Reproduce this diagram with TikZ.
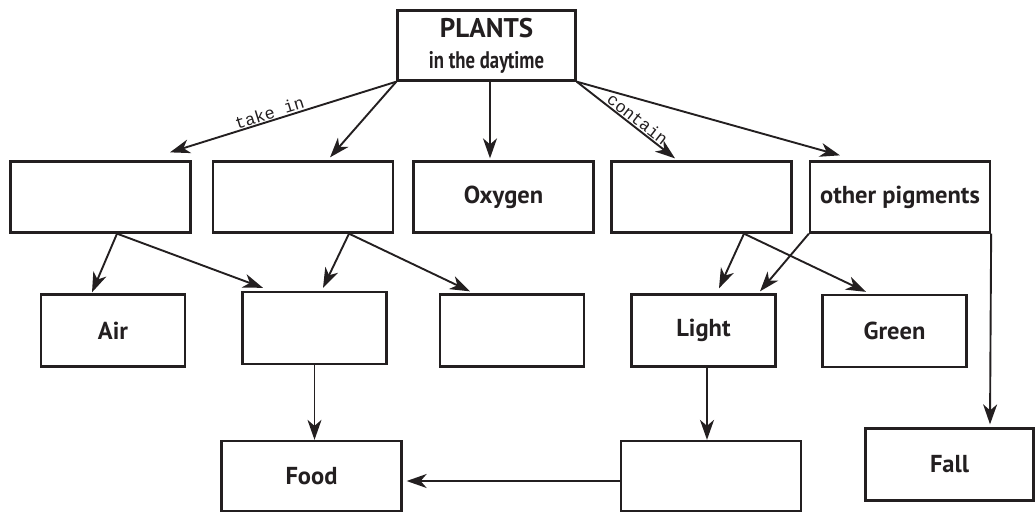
\documentclass[tikz,border=0pt]{standalone}
\usepackage{graphicx}
\usepackage{fontspec}
\setmainfont{PT Sans}
\setmonofont{Liberation Mono}
\usepackage{tikz}
\usetikzlibrary{arrows.meta}
\definecolor{ink}{HTML}{231F20}
\tikzset{
    box/.style={draw=ink, line width=2.3pt, minimum width=180pt, minimum height=71pt,
        inner sep=0pt, text=ink, font=\fontsize{24.5}{28}\selectfont\bfseries},
    smallbox/.style={box, minimum width=144pt, minimum height=72pt},
    lbl/.style={font=\fontsize{17}{17}\selectfont\ttfamily, text=ink, sloped, above, inner sep=1pt}
}

\begin{document}
\begin{tikzpicture}[x=1pt, y=-1pt, line width=1.9pt, draw=ink,
        >={Stealth[length=20pt, width=14pt, inset=6pt]}]
            \useasboundingbox (0,0) rectangle (1036,512);

            \node[box, minimum width=178pt, minimum height=70pt, align=center] (PL) at (486.5,45.5)
                {{\fontsize{27}{30}\selectfont PLANTS}\\[3pt]{\fontsize{24}{24}\selectfont\scalebox{0.78}[1]{in the daytime}}};

            \node[box] (A1) at (100.5,197) {};
            \node[box] (A2) at (303,197) {};
            \node[box] (OX) at (503.5,197) {Oxygen};
            \node[box] (A4) at (701.5,197) {};
            \node[box] (OP) at (900,197) {other pigments};

            \node[smallbox] (AIR) at (113,330.5) {Air};
            \node[smallbox] (B2) at (314.5,328) {};
            \node[smallbox] (B3) at (512,330.5) {};
            \node[smallbox] (LI) at (703.5,330.5) {Light};
            \node[smallbox] (GR) at (894.5,331) {Green};

            \node[box, minimum height=70pt] (FO) at (311.5,476) {Food};
            \node[box, minimum height=70pt] (C2) at (711,476) {};
            \node[box, minimum width=168pt, minimum height=72pt] (FA) at (949.5,464.5) {Fall};

            \draw[->] (PL.south west) -- node[lbl, pos=0.55] {take in} ([xshift=69.5pt,yshift=8pt]A1.north);
            \draw[->] (PL.south west) -- ([xshift=27pt,yshift=3pt]A2.north);
            \draw[->] ([xshift=3.5pt]PL.south) -- ([xshift=-13.5pt,yshift=2pt]OX.north);
            \draw[->] (PL.south east) -- node[lbl, pos=0.57] {contain} ([xshift=-26.5pt,yshift=2pt]A4.north);
            \draw[->] (PL.south east) -- ([xshift=-60pt,yshift=5pt]OP.north);

            \draw[->] ([xshift=16.5pt]A1.south) -- ([xshift=-21pt,yshift=1pt]AIR.north);
            \draw[->] ([xshift=16.5pt]A1.south) -- ([xshift=-51.5pt,yshift=3pt]B2.north);
            \draw[->] ([xshift=46pt]A2.south) -- ([xshift=8.5pt,yshift=3pt]B2.north);
            \draw[->] ([xshift=46pt]A2.south) -- ([xshift=-42pt,yshift=2pt]B3.north);
            \draw[->] ([xshift=42.5pt]A4.south) -- ([xshift=15.5pt,yshift=5pt]LI.north);
            \draw[->] ([xshift=42.5pt]A4.south) -- ([xshift=-28.5pt,yshift=2pt]GR.north);
            \draw[->] (OP.south west) -- ([xshift=56.5pt,yshift=2pt]LI.north);
            \draw[->] (OP.south east) -- ([xshift=40.5pt,yshift=3pt]FA.north);

            \draw[->] (B2.south) -- (B2.south |- FO.north);
            \draw[->] ([xshift=3.5pt]LI.south) -- ([xshift=-4pt]C2.north);
            \draw[->] ([yshift=-5pt]C2.west) -- ([xshift=4pt,yshift=-5pt]FO.east);
         \end{tikzpicture}
\end{document}
